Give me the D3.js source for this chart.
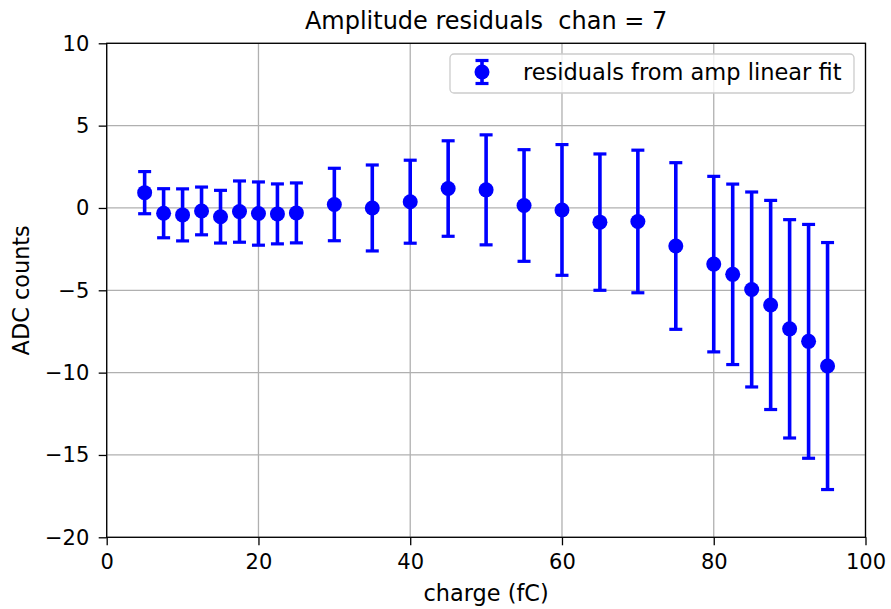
<!DOCTYPE html>
<html>
<head>
<meta charset="utf-8">
<script src="https://cdn.jsdelivr.net/npm/d3@7"></script>
<style>
  body { margin: 0; background: #fff; }
  text { font-family: "DejaVu Sans", sans-serif; fill: #000; white-space: pre; }
</style>
</head>
<body>
<div id="graph"></div>
<script>
const charge = [5, 7.5, 10, 12.5, 15, 17.5, 20, 22.5, 25, 30, 35, 40, 45, 50, 55, 60, 65, 70, 75, 80, 82.5, 85, 87.5, 90, 92.5, 95];
const residuals = [0.93, -0.32, -0.42, -0.18, -0.53, -0.22, -0.34, -0.36, -0.30, 0.21, 0.0, 0.38, 1.18, 1.10, 0.15, -0.12, -0.86, -0.82, -2.31, -3.41, -4.03, -4.95, -5.89, -7.34, -8.10, -9.60];
const errors = [1.28, 1.49, 1.58, 1.45, 1.60, 1.86, 1.92, 1.82, 1.82, 2.20, 2.61, 2.52, 2.90, 3.34, 3.39, 3.97, 4.14, 4.33, 5.06, 5.33, 5.48, 5.92, 6.35, 6.63, 7.10, 7.50];
const xTicks = [0, 20, 40, 60, 80, 100];
const yTicks = [-20, -15, -10, -5, 0, 5, 10];

const width = 891, height = 609;
const plotLeft = 106.7, plotRight = 865.5, plotTop = 43.3, plotBottom = 537.3;
const blue = "#0000ff";

const svg = d3.select("#graph")
    .append("svg")
    .attr("width", width)
    .attr("height", height);

const xScale = d3.scaleLinear().domain([0, 100]).range([plotLeft, plotRight]);
const yScale = d3.scaleLinear().domain([-20, 10]).range([plotBottom, plotTop]);

// grid
svg.append("g")
    .selectAll("line")
    .data(xTicks)
    .join("line")
    .attr("x1", d => xScale(d)).attr("x2", d => xScale(d))
    .attr("y1", plotTop).attr("y2", plotBottom)
    .style("stroke", "#b0b0b0").style("stroke-width", 1.3);
svg.append("g")
    .selectAll("line")
    .data(yTicks)
    .join("line")
    .attr("x1", plotLeft).attr("x2", plotRight)
    .attr("y1", d => yScale(d)).attr("y2", d => yScale(d))
    .style("stroke", "#b0b0b0").style("stroke-width", 1.3);

// axes
const xAxis = d3.axisBottom(xScale).tickValues(xTicks).tickSizeInner(8).tickSizeOuter(0).tickPadding(9);
const yAxis = d3.axisLeft(yScale).tickValues(yTicks).tickSizeInner(8).tickSizeOuter(0).tickPadding(9.4);

const gx = svg.append("g")
    .attr("transform", "translate(0," + plotBottom + ")")
    .call(xAxis);
const gy = svg.append("g")
    .attr("transform", "translate(" + plotLeft + ",0)")
    .call(yAxis);
[gx, gy].forEach(g => {
    g.select(".domain").remove();
    g.selectAll(".tick line").style("stroke", "#000").style("stroke-width", 1.3);
    g.selectAll(".tick text").style("font-size", "21px").style("font-family", "DejaVu Sans").attr("fill", "#000");
});

// frame
svg.append("rect")
    .attr("x", plotLeft).attr("y", plotTop)
    .attr("width", plotRight - plotLeft).attr("height", plotBottom - plotTop)
    .style("fill", "none").style("stroke", "#000").style("stroke-width", 1.3);

// error bars
const pts = charge.map((c, i) => ({x: c, y: residuals[i], e: errors[i]}));
const capHalf = 6.5;
const eb = svg.append("g").selectAll("g").data(pts).join("g");
eb.append("line")
    .attr("x1", d => xScale(d.x)).attr("x2", d => xScale(d.x))
    .attr("y1", d => yScale(d.y + d.e)).attr("y2", d => yScale(d.y - d.e))
    .style("stroke", blue).style("stroke-width", 3.6);
eb.append("line")
    .attr("x1", d => xScale(d.x) - capHalf).attr("x2", d => xScale(d.x) + capHalf)
    .attr("y1", d => yScale(d.y + d.e)).attr("y2", d => yScale(d.y + d.e))
    .style("stroke", blue).style("stroke-width", 3.2);
eb.append("line")
    .attr("x1", d => xScale(d.x) - capHalf).attr("x2", d => xScale(d.x) + capHalf)
    .attr("y1", d => yScale(d.y - d.e)).attr("y2", d => yScale(d.y - d.e))
    .style("stroke", blue).style("stroke-width", 3.2);
eb.append("circle")
    .attr("cx", d => xScale(d.x)).attr("cy", d => yScale(d.y))
    .attr("r", 7.5)
    .style("fill", blue);

// legend
const lg = svg.append("g");
lg.append("rect")
    .attr("x", 450).attr("y", 54).attr("width", 404).attr("height", 39)
    .attr("rx", 4)
    .style("fill", "rgba(255,255,255,0.8)").style("stroke", "#cccccc").style("stroke-width", 1.3);
const lx = 482, ly = 72;
lg.append("line").attr("x1", lx).attr("x2", lx).attr("y1", ly - 11.5).attr("y2", ly + 11.5)
    .style("stroke", blue).style("stroke-width", 3.6);
[ly - 11.5, ly + 11.5].forEach(yy => lg.append("line")
    .attr("x1", lx - capHalf).attr("x2", lx + capHalf).attr("y1", yy).attr("y2", yy)
    .style("stroke", blue).style("stroke-width", 3.2));
lg.append("circle").attr("cx", lx).attr("cy", ly).attr("r", 7.5).style("fill", blue);
lg.append("text")
    .attr("x", 523).attr("y", 79.5)
    .style("font-size", "22.5px")
    .text("residuals from amp linear fit");

// title and labels
svg.append("text")
    .attr("x", (plotLeft + plotRight) / 2).attr("y", 29)
    .attr("text-anchor", "middle")
    .style("font-size", "24px")
    .text("Amplitude residuals  chan = 7");
svg.append("text")
    .attr("x", (plotLeft + plotRight) / 2).attr("y", 600.5)
    .attr("text-anchor", "middle")
    .style("font-size", "22.4px")
    .text("charge (fC)");
svg.append("text")
    .attr("transform", "translate(29," + ((plotTop + plotBottom) / 2) + ") rotate(-90)")
    .attr("text-anchor", "middle")
    .style("font-size", "22.4px")
    .text("ADC counts");
</script>
</body>
</html>
